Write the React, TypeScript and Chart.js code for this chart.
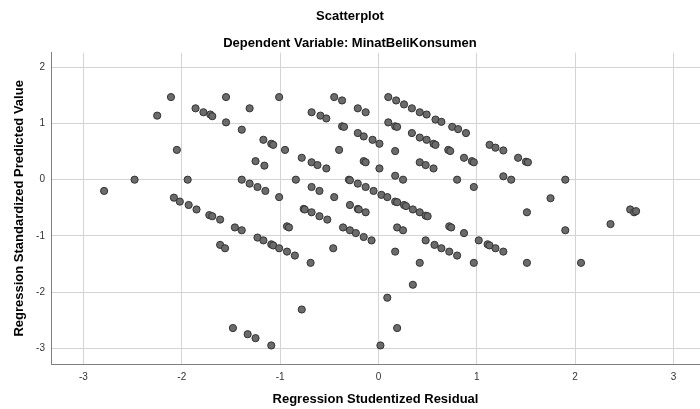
import React, { useEffect, useRef } from "react";
import { Chart, registerables } from "chart.js";

Chart.register(...registerables);

const chartTitle = "Scatterplot";
const chartSubtitle = "Dependent Variable: MinatBeliKonsumen";
const xAxisTitle = "Regression Studentized Residual";
const yAxisTitle = "Regression Standardized Predicted Value";
const xTicks = [-3, -2, -1, 0, 1, 2, 3];
const yTicks = [-3, -2, -1, 0, 1, 2];

// Regression Studentized Residual (x)
const residuals = [
  -2.11, -1.55, -1.01, -2.25, -1.86, -1.78, -1.71, -1.69, -1.31, -1.55,
  -1.39, -1.17, -1.09, -1.07, -2.05, -1.25, -1.16, -2.48, -1.94, -1.39,
  -1.31, -1.23, -1.15, -2.79, -2.08, -1.01, -2.02, -1.93, -1.85, -1.72,
  -1.69, -1.61, -1.46, -1.39, -1.23, -1.17, -1.09, -1.07, -1.01, -1.61,
  -1.56, -1.48, -1.33, -1.25, -1.09, -0.45, -0.37, -0.68, -0.59, -0.53,
  -0.21, -0.13, 0.10, 0.18, 0.26, 0.34, 0.42, 0.49, 0.58, 0.64,
  0.75, 0.81, 0.89, -0.95, -0.78, -0.68, -0.62, -0.53, -0.37, -0.35,
  -0.40, -0.21, -0.15, -0.06, 0.01, -0.15, -0.13, 0.01, 0.10, 0.17,
  0.19, 0.34, 0.42, 0.49, 0.56, 0.58, 0.71, 0.73, 0.17, 0.87,
  0.95, 0.97, 0.42, 0.48, 0.56, 0.17, 0.25, 0.80, 0.97, -0.84,
  -0.68, -0.60, -0.45, -0.30, -0.29, -0.21, -0.13, -0.05, 0.03, 0.09,
  0.17, 0.19, 0.26, 0.28, 0.35, 0.42, 0.48, 0.50, -0.76, -0.75,
  -0.68, -0.60, -0.52, -0.29, -0.21, -0.20, -0.13, -0.93, -0.91, -0.36,
  -0.29, -0.23, -0.15, -0.07, 0.19, 0.25, 0.72, 0.74, 0.87, -0.93,
  -0.85, -0.69, -0.46, 0.17, 0.42, 0.48, 0.57, 0.64, 0.72, 0.80,
  0.97, 1.02, 0.35, 0.09, 1.13, 1.19, 1.27, 1.42, 1.50, 1.52,
  1.27, 1.35, 1.90, 1.75, 1.51, 2.36, 2.56, 2.60, 2.62, 1.90,
  1.11, 1.13, 1.19, 1.27, 1.51, 2.06, -0.78, 0.19, 0.02,
];

// Regression Standardized Predicted Value (y)
const predicted = [
  1.47, 1.47, 1.47, 1.14, 1.27, 1.20, 1.16, 1.13, 1.27, 1.02,
  0.89, 0.71, 0.64, 0.62, 0.53, 0.33, 0.25, 0.0, 0.0, 0.0,
  -0.07, -0.13, -0.20, -0.20, -0.32, -0.31, -0.39, -0.45, -0.53, -0.63,
  -0.65, -0.71, -0.85, -0.90, -1.03, -1.08, -1.15, -1.17, -1.22, -1.16,
  -1.22, -2.64, -2.75, -2.82, -2.95, 1.47, 1.41, 1.20, 1.14, 1.09,
  1.27, 1.20, 1.47, 1.41, 1.34, 1.27, 1.20, 1.16, 1.07, 1.03,
  0.94, 0.90, 0.83, 0.53, 0.39, 0.31, 0.26, 0.20, 0.95, 0.94,
  0.53, 0.83, 0.77, 0.71, 0.64, 0.33, 0.31, 0.20, 1.02, 0.95,
  0.94, 0.83, 0.75, 0.71, 0.64, 0.62, 0.53, 0.51, 0.51, 0.39,
  0.33, 0.31, 0.31, 0.26, 0.20, 0.07, 0.0, 0.0, -0.13, 0.0,
  -0.13, -0.20, -0.31, 0.0, -0.01, -0.07, -0.13, -0.20, -0.27, -0.31,
  -0.39, -0.40, -0.45, -0.47, -0.53, -0.58, -0.64, -0.65, -0.52, -0.53,
  -0.58, -0.65, -0.71, -0.45, -0.52, -0.53, -0.58, -0.83, -0.85, -0.85,
  -0.90, -0.95, -1.02, -1.08, -0.85, -0.90, -0.83, -0.85, -0.95, -1.28,
  -1.35, -1.48, -1.22, -1.28, -1.48, -1.08, -1.16, -1.22, -1.28, -1.35,
  -1.48, -1.08, -1.87, -2.10, 0.62, 0.57, 0.52, 0.39, 0.32, 0.31,
  0.06, 0.0, 0.0, -0.33, -0.58, -0.79, -0.53, -0.58, -0.56, -0.90,
  -1.15, -1.17, -1.22, -1.28, -1.48, -1.48, -2.31, -2.64, -2.95,
];

const FONT = "'Liberation Sans', Arial, sans-serif";

export default function App() {
  const canvasRef = useRef<HTMLCanvasElement | null>(null);

  useEffect(() => {
    document.body.style.margin = "0";
    const canvas = canvasRef.current;
    if (!canvas) return;
    const points = residuals.map((x, i) => ({ x, y: predicted[i] }));
    const chart = new Chart(canvas, {
      type: "scatter",
      data: {
        datasets: [
          {
            data: points,
            backgroundColor: "#6b6b6b",
            borderColor: "#333333",
            borderWidth: 1,
            pointRadius: 3.6,
            pointHoverRadius: 3.6,
          },
        ],
      },
      options: {
        responsive: false,
        animation: false,
        devicePixelRatio: 1,
        layout: { padding: 0, autoPadding: false },
        plugins: {
          legend: { display: false },
          tooltip: { enabled: false },
          title: {
            display: true,
            text: chartTitle,
            color: "#000",
            font: { family: FONT, size: 13, weight: "bold" },
            padding: { top: 9, bottom: 11 },
          },
          subtitle: {
            display: true,
            text: chartSubtitle,
            color: "#000",
            font: { family: FONT, size: 13, weight: "bold" },
            padding: { top: 0, bottom: 1.5 },
          },
        },
        scales: {
          x: {
            type: "linear",
            min: -3.33,
            max: 3.27,
            afterBuildTicks: (scale: any) => {
              scale.ticks = xTicks.map((v) => ({ value: v }));
            },
            afterFit: (scale: any) => {
              scale.height = 45;
              scale.paddingLeft = 0;
              scale.paddingRight = 0;
            },
            grid: { color: "#d4d4d4", lineWidth: 1, drawTicks: false },
            border: { color: "#7f7f7f", width: 1 },
            ticks: {
              color: "#333",
              font: { family: FONT, size: 10 },
              padding: 7,
              maxRotation: 0,
            },
            title: {
              display: true,
              text: xAxisTitle,
              color: "#000",
              font: { family: FONT, size: 13, weight: "bold" },
              padding: { top: 0, bottom: 2 },
            },
          },
          y: {
            type: "linear",
            min: -3.28,
            max: 2.26,
            afterBuildTicks: (scale: any) => {
              scale.ticks = yTicks.map((v) => ({ value: v }));
            },
            afterFit: (scale: any) => {
              scale.width = 51;
              scale.paddingTop = 0;
              scale.paddingBottom = 0;
            },
            grid: { color: "#d4d4d4", lineWidth: 1, drawTicks: false },
            border: { color: "#7f7f7f", width: 1 },
            ticks: {
              color: "#333",
              font: { family: FONT, size: 10 },
              padding: 6,
            },
            title: {
              display: true,
              text: yAxisTitle,
              color: "#000",
              font: { family: FONT, size: 13, weight: "bold" },
              padding: { top: 12, bottom: 0 },
            },
          },
        },
      },
    });
    return () => chart.destroy();
  }, []);

  return (
    <div style={{ position: "absolute", left: 0, top: 0, width: 700, height: 409, background: "#fff" }}>
      <canvas ref={canvasRef} width={700} height={409} style={{ width: 700, height: 409 }} />
    </div>
  );
}
